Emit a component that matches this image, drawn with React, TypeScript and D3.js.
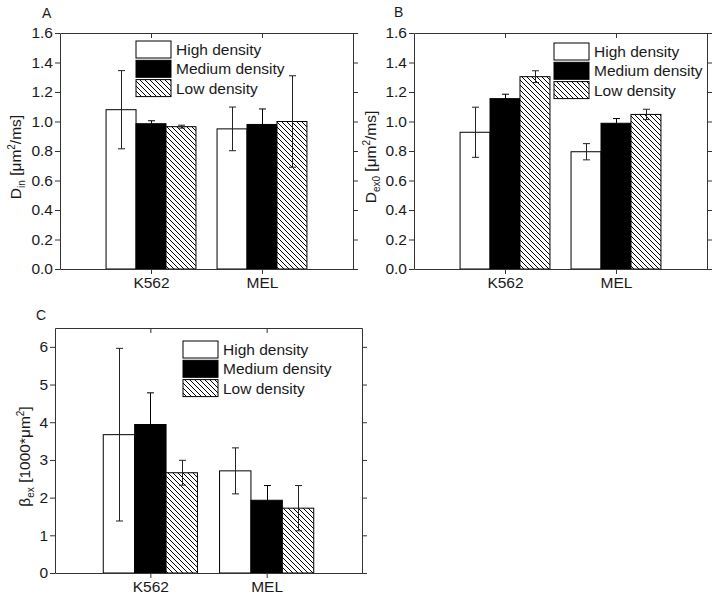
import { useEffect, useRef } from "react";
import * as d3 from "d3";

// categories and series
const cellLines = ["K562", "MEL"];
const densities = ["High density", "Medium density", "Low density"];

// panel A: D_in (um^2/ms), rows = cell line, cols = density
const dinMean = [
  [1.08, 0.985, 0.965],
  [0.95, 0.98, 1.0],
];
const dinErr = [
  [0.265, 0.02, 0.01],
  [0.148, 0.105, 0.31],
];

// panel B: D_ex0 (um^2/ms)
const dex0Mean = [
  [0.927, 1.155, 1.304],
  [0.795, 0.988, 1.048],
];
const dex0Err = [
  [0.17, 0.03, 0.04],
  [0.055, 0.032, 0.035],
];

// panel C: beta_ex (1000*um^2)
const betaMean = [
  [3.67, 3.94, 2.66],
  [2.71, 1.93, 1.72],
];
const betaErr = [
  [2.29, 0.84, 0.33],
  [0.61, 0.39, 0.6],
];

const dinTicks = [0, 0.2, 0.4, 0.6, 0.8, 1.0, 1.2, 1.4, 1.6];
const betaTicks = [0, 1, 2, 3, 4, 5, 6];

const FONT = "Arial, 'Liberation Sans', sans-serif";
const INK = "#1a1a1a";

interface PanelSpec {
  letter: string;
  letterPos: [number, number];
  box: { left: number; right: number; top: number; bottom: number };
  yMax: number;
  ticks: number[];
  fmt: (d: number) => string;
  means: number[][];
  errs: number[][];
  legendPos: [number, number];
  labelX: number;
  labelParts: { t: string; kind: "n" | "sub" | "sup" }[];
}

const panels: PanelSpec[] = [
  {
    letter: "A",
    letterPos: [42, 18],
    box: { left: 60, right: 353, top: 33, bottom: 269 },
    yMax: 1.6,
    ticks: dinTicks,
    fmt: d3.format(".1f"),
    means: dinMean,
    errs: dinErr,
    legendPos: [136, 41],
    labelX: 21,
    labelParts: [
      { t: "D", kind: "n" },
      { t: "in", kind: "sub" },
      { t: " [\u03bcm", kind: "n" },
      { t: "2", kind: "sup" },
      { t: "/ms]", kind: "n" },
    ],
  },
  {
    letter: "B",
    letterPos: [394, 17],
    box: { left: 414, right: 707, top: 33, bottom: 269 },
    yMax: 1.6,
    ticks: dinTicks,
    fmt: d3.format(".1f"),
    means: dex0Mean,
    errs: dex0Err,
    legendPos: [554, 43],
    labelX: 376,
    labelParts: [
      { t: "D", kind: "n" },
      { t: "ex0", kind: "sub" },
      { t: " [\u03bcm", kind: "n" },
      { t: "2", kind: "sup" },
      { t: "/ms]", kind: "n" },
    ],
  },
  {
    letter: "C",
    letterPos: [36, 320],
    box: { left: 55, right: 362, top: 328, bottom: 573 },
    yMax: 6.5,
    ticks: betaTicks,
    fmt: d3.format("d"),
    means: betaMean,
    errs: betaErr,
    legendPos: [183, 341],
    labelX: 30,
    labelParts: [
      { t: "\u03b2", kind: "n" },
      { t: "ex", kind: "sub" },
      { t: " [1000*\u03bcm", kind: "n" },
      { t: "2", kind: "sup" },
      { t: "]", kind: "n" },
    ],
  },
];

const fills = ["#ffffff", "#000000", "url(#hatch)"];

export default function App() {
  const svgRef = useRef<SVGSVGElement>(null);

  useEffect(() => {
    if (!svgRef.current) return;
    const svg = d3.select(svgRef.current);
    svg.selectAll("*").remove();

    // hatch pattern for low density bars
    const pat = svg
      .append("defs")
      .append("pattern")
      .attr("id", "hatch")
      .attr("patternUnits", "userSpaceOnUse")
      .attr("width", 5)
      .attr("height", 5);
    pat.append("rect").attr("width", 5).attr("height", 5).attr("fill", "#fff");
    pat
      .append("path")
      .attr("d", "M0,0L5,5M-1,4L1,6M4,-1L6,1")
      .attr("stroke", "#000")
      .attr("stroke-width", 1);

    panels.forEach((p) => {
      const { left, right, top, bottom } = p.box;
      const g = svg.append("g");

      const x = d3
        .scalePoint<string>()
        .domain(cellLines)
        .range([left, right])
        .padding(0.82);
      const y = d3.scaleLinear().domain([0, p.yMax]).range([bottom, top]);
      const barW = x.step() * 0.27;

      // bars
      cellLines.forEach((cl, ci) => {
        densities.forEach((_dn, di) => {
          const cx = (x(cl) as number) + (di - 1) * barW;
          const v = p.means[ci][di];
          g.append("rect")
            .attr("x", cx - barW / 2)
            .attr("y", y(v))
            .attr("width", barW)
            .attr("height", y(0) - y(v))
            .attr("fill", fills[di])
            .attr("stroke", "#000")
            .attr("stroke-width", 1);
        });
      });

      // error bars
      cellLines.forEach((cl, ci) => {
        densities.forEach((_dn, di) => {
          const cx = Math.round((x(cl) as number) + (di - 1) * barW) + 0.5;
          const v = p.means[ci][di];
          const e = p.errs[ci][di];
          const stroke = di === 1 ? "#000" : "#222";
          g.append("line")
            .attr("x1", cx)
            .attr("x2", cx)
            .attr("y1", y(v + e))
            .attr("y2", y(v - e))
            .attr("stroke", stroke);
          [v + e, v - e].forEach((yy) => {
            g.append("line")
              .attr("x1", cx - 3.5)
              .attr("x2", cx + 3.5)
              .attr("y1", y(yy))
              .attr("y2", y(yy))
              .attr("stroke", stroke);
          });
        });
      });

      // axes
      const styleAxis = (sel: d3.Selection<SVGGElement, unknown, null, undefined>) => {
        sel.select(".domain").attr("stroke", "#333");
        sel.selectAll(".tick line").attr("stroke", "#333");
        sel
          .selectAll(".tick text")
          .attr("fill", INK)
          .attr("font-size", 15.5)
          .attr("font-family", FONT);
      };

      g.append("g")
        .attr("transform", `translate(${left},0)`)
        .call(
          d3
            .axisLeft(y)
            .tickValues(p.ticks)
            .tickFormat((d) => p.fmt(d as number))
            .tickSize(5)
            .tickSizeOuter(0)
            .tickPadding(2)
        )
        .call(styleAxis);

      g.append("g")
        .attr("transform", `translate(${right},0)`)
        .call(
          d3
            .axisLeft(y)
            .tickValues(p.ticks)
            .tickFormat(() => "")
            .tickSize(-5)
            .tickSizeOuter(0)
        )
        .call(styleAxis);

      g.append("g")
        .attr("transform", `translate(0,${bottom})`)
        .call(d3.axisBottom(x).tickSize(5).tickSizeOuter(0).tickPadding(3))
        .call(styleAxis);

      g.append("g")
        .attr("transform", `translate(0,${top})`)
        .call(
          d3
            .axisBottom(x)
            .tickFormat(() => "")
            .tickSize(5)
            .tickSizeOuter(0)
        )
        .call(styleAxis);

      // legend
      const [lx, ly] = p.legendPos;
      densities.forEach((dn, di) => {
        const ry = ly + di * 19.3;
        g.append("rect")
          .attr("x", lx)
          .attr("y", ry)
          .attr("width", 35)
          .attr("height", 17)
          .attr("fill", fills[di])
          .attr("stroke", "#000")
          .attr("stroke-width", 1);
        g.append("text")
          .attr("x", lx + 40)
          .attr("y", ry + 14)
          .attr("font-size", 15.5)
          .attr("font-family", FONT)
          .attr("fill", INK)
          .text(dn);
      });

      // panel letter
      g.append("text")
        .attr("x", p.letterPos[0])
        .attr("y", p.letterPos[1])
        .attr("font-size", 14)
        .attr("font-family", FONT)
        .attr("fill", INK)
        .text(p.letter);

      // y label
      const lab = g
        .append("text")
        .attr("transform", `translate(${p.labelX},${(top + bottom) / 2 + 6}) rotate(-90)`)
        .attr("text-anchor", "middle")
        .attr("font-size", 15.5)
        .attr("font-family", FONT)
        .attr("fill", INK);
      let shift = 0;
      p.labelParts.forEach((part) => {
        const target = part.kind === "sub" ? 4 : part.kind === "sup" ? -6 : 0;
        lab
          .append("tspan")
          .attr("dy", target - shift)
          .attr("font-size", part.kind === "n" ? 15.5 : 10)
          .text(part.t);
        shift = target;
      });
    });
  }, []);

  return (
    <svg
      ref={svgRef}
      width={714}
      height={601}
      style={{ position: "absolute", left: 0, top: 0, background: "#fff" }}
    />
  );
}
